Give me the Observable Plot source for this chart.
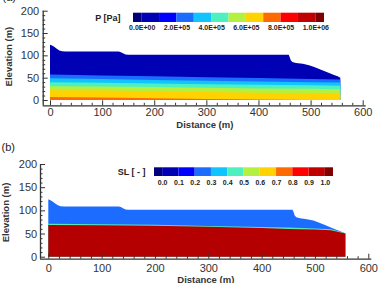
<!DOCTYPE html>
<html><head><meta charset="utf-8">
<script src="https://cdn.jsdelivr.net/npm/d3@7"></script>
<script src="https://cdn.jsdelivr.net/npm/@observablehq/plot@0.6"></script>
<style>
body{margin:0;background:#fff;}
#wrap{position:relative;width:383px;height:283px;overflow:hidden;background:#fff;}
#wrap svg{position:absolute;left:0;}
</style></head><body><div id="wrap"></div>
<script>
// ---- data ----
// top surface of the model domain (distance m, elevation m)
const surfX = [0, 4, 8, 13, 18, 23, 30, 132, 136, 140, 145, 150, 458, 460, 462, 465, 472, 485, 497, 507, 520, 532, 545, 552, 557];
const surfY = [124, 122, 119, 115, 111, 109, 108.5, 108.5, 107, 104.5, 102, 101.5, 101.5, 96, 89, 85, 83, 81, 78, 74, 68, 62, 56, 53, 50];

// panel (a): pressure band tops
const pBandX = [0, 100, 200, 300, 400, 500, 557];
const pBand1 = [57, 55, 53, 51, 49, 47, 46];          // medium blue
const pBand2 = [48.5, 47, 45, 43, 41.5, 40, 39];      // cyan
const pBand3 = [40, 38.5, 37, 35.5, 34, 33, 32];      // aqua
const pBand4 = [31, 30, 29, 27.5, 26, 25, 24];        // yellow-green
const pBand5 = [22, 21, 19.5, 18, 16.5, 15, 14];      // yellow
const pBand6 = [7, 5.5, 4, 2.5, 1, 0, 0];             // orange
const pBandColors = ["#0000b4", "#1c6dff", "#10c4ff", "#4ef0c0", "#b4f040", "#ffd200", "#ff6a00"];

// panel (b): saturation
const slX = [0, 100, 200, 300, 400, 450, 500, 530, 557];
const slTransTop = [71, 70, 69, 66.5, 64, 63, 61, 59, 51];
const slSatTop = [68.5, 68, 67, 64.5, 62, 60, 58.5, 57, 50];
const slColors = ["#1c6dff", "#5fe6b0", "#b40000"];

// legends
const legendColors = ["#00007a", "#0000b4", "#0000ff", "#1c6dff", "#10c4ff", "#4ef0c0", "#b4f040", "#ffd200", "#ff6a00", "#ff0000", "#c00000", "#800000"];
const pLegendValues = [0, 2, 4, 6, 8, 10];
const pLegendLabels = ["0.0E+00", "2.0E+05", "4.0E+05", "6.0E+05", "8.0E+05", "1.0E+06"];
const slLegendValues = [0, 0.1, 0.2, 0.3, 0.4, 0.5, 0.6, 0.7, 0.8, 0.9, 1.0];
const slLegendLabels = ["0.0", "0.1", "0.2", "0.3", "0.4", "0.5", "0.6", "0.7", "0.8", "0.9", "1.0"];

// axes
const xMajor = [0, 100, 200, 300, 400, 500, 600];
const xMinor = [20, 40, 60, 80, 120, 140, 160, 180, 220, 240, 260, 280, 320, 340, 360, 380, 420, 440, 460, 480, 520, 540, 560, 580];
const yMajor = [0, 50, 100, 150, 200];
const yMinor = [10, 20, 30, 40, 60, 70, 80, 90, 110, 120, 130, 140, 160, 170, 180, 190];

// ---- drawing ----
const FONT = "'Liberation Sans', Arial, sans-serif";
const INK = "#333";
const rows = (xs, ys) => xs.map((x, i) => ({x, y: ys[i]}));
const wrap = document.getElementById("wrap");

function panel(c) {
  const marks = [Plot.areaY(rows(surfX, surfY), {x: "x", y: "y", fill: c.domainFill, curve: "linear"})];
  c.layers.forEach(l => marks.push(Plot.areaY(rows(l.x, l.y), {x: "x", y: "y", fill: l.fill, curve: "linear"})));
  marks.push(
    Plot.ruleX([0], {dx: c.axDx, insetBottom: -c.axDy, stroke: INK, strokeWidth: 1.3}),
    Plot.ruleY([0], {dy: c.axDy, insetLeft: c.axDx, insetRight: -3, stroke: INK, strokeWidth: 1.3}),
    Plot.axisX(xMajor, {tickSize: -5, dy: c.axDy, tickFormat: () => "", color: INK, label: null}),
    Plot.axisX(xMinor, {tickSize: -2.5, dy: c.axDy, tickFormat: () => "", color: INK, label: null}),
    Plot.axisX(xMajor, {tickSize: 0, tickPadding: c.xPad, fontSize: 11, color: INK, label: null}),
    Plot.axisY(yMajor, {tickSize: -5, dx: c.axDx, tickFormat: () => "", color: INK, label: null}),
    Plot.axisY(yMinor, {tickSize: -2.5, dx: c.axDx, tickFormat: () => "", color: INK, label: null}),
    Plot.axisY(yMajor, {tickSize: 0, tickPadding: c.yPad, fontSize: 11, color: INK, label: null}),
    Plot.text(["Distance (m)"], {text: d => d, frameAnchor: "bottom", textAnchor: "middle", lineAnchor: "middle", dx: c.distDx, dy: c.distDy, fontSize: 9.5, fontWeight: "bold", fill: INK}),
    Plot.text(["Elevation (m)"], {text: d => d, frameAnchor: "left", textAnchor: "middle", lineAnchor: "middle", rotate: -90, dx: c.elevDx, dy: c.elevDy, fontSize: 9.5, fontWeight: "bold", fill: INK}),
    Plot.text([c.letter], {text: d => d, frameAnchor: "top-left", textAnchor: "start", lineAnchor: "middle", dx: c.letDx, dy: c.letDy, fontSize: 11, fill: "#222"})
  );
  const svg = Plot.plot({
    width: 383, height: c.height,
    marginTop: c.mt, marginBottom: c.mb, marginLeft: c.ml, marginRight: c.mr,
    x: {domain: [0, 600], label: null},
    y: {domain: [0, 200], label: null},
    style: {background: "transparent", overflow: "visible", fontFamily: FONT},
    marks
  });
  svg.style.top = c.top + "px";
  wrap.appendChild(svg);
}

function legend(c) {
  const blocks = legendColors.map((col, i) => ({
    a: i === 0 ? c.lo : c.vals[0] + (i - 1) * c.step,
    b: i === legendColors.length - 1 ? c.hi : c.vals[0] + i * c.step,
    col
  }));
  const svg = Plot.plot({
    width: 383, height: c.height,
    marginTop: c.mt, marginBottom: c.mb, marginLeft: c.ml, marginRight: c.mr,
    x: {domain: [c.lo, c.hi], axis: null},
    color: {type: "identity"},
    style: {background: "transparent", overflow: "visible", fontFamily: FONT},
    marks: [
      Plot.rect(blocks, {x1: "a", x2: "b", fill: "col"}),
      Plot.text(c.vals, {x: d => d, text: (d, i) => c.labels[i], frameAnchor: "bottom", textAnchor: "middle", lineAnchor: "middle", dy: c.labDy, fontSize: 7, fontWeight: "bold", fill: "#222"}),
      Plot.text([c.title], {text: d => d, frameAnchor: "left", textAnchor: "end", lineAnchor: "middle", dx: c.titleDx, fontSize: 9, fontWeight: "bold", fill: "#222"})
    ]
  });
  svg.style.top = c.top + "px";
  wrap.appendChild(svg);
}

// panel (a)
panel({
  top: 0, height: 140, mt: 10.7, mb: 40, ml: 50, mr: 20.3,
  axDx: -7.3, axDy: 5.3, xPad: 7.2, yPad: 11.3,
  distDx: -2, distDy: 24.3, elevDx: -42, elevDy: 0.7,
  letter: "(a)", letDx: -48, letDy: -14.2,
  domainFill: pBandColors[0],
  layers: [pBand1, pBand2, pBand3, pBand4, pBand5, pBand6].map((y, i) => ({x: pBandX, y, fill: pBandColors[i + 1]}))
});
legend({
  top: 0, height: 40, mt: 12.7, mb: 18, ml: 133, mr: 59,
  lo: -0.5, hi: 10.5, step: 1, vals: pLegendValues, labels: pLegendLabels,
  labDy: 5.7, title: "P [Pa]", titleDx: -13
});

// panel (b)
panel({
  top: 140, height: 143, mt: 24, mb: 26.3, ml: 48.3, mr: 14.7,
  axDx: -8.3, axDy: 2, xPad: 7.4, yPad: 11.6,
  distDx: -3, distDy: 22.3, elevDx: -43.3, elevDy: 1.6,
  letter: "(b)", letDx: -47.3, letDy: -17.3,
  domainFill: slColors[0],
  layers: [{x: slX, y: slTransTop, fill: slColors[1]}, {x: slX, y: slSatTop, fill: slColors[2]}]
});
legend({
  top: 140, height: 50, mt: 27.3, mb: 14, ml: 154, mr: 50,
  lo: -0.05, hi: 1.05, step: 0.1, vals: slLegendValues, labels: slLegendLabels,
  labDy: 6.3, title: "SL [ - ]", titleDx: -9
});
</script></body></html>
